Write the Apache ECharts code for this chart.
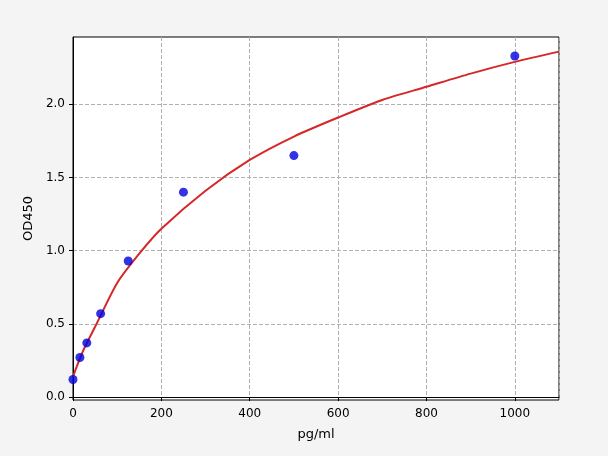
<!DOCTYPE html>
<html>
<head>
<meta charset="utf-8">
<script src="https://cdn.jsdelivr.net/npm/echarts@6/dist/echarts.min.js"></script>
<style>html,body{margin:0;padding:0;background:#f4f4f4}#c{width:608px;height:456px}</style>
</head>
<body>
<div id="c"></div>
<script>
// standards
var conc = [0, 15.6, 31.25, 62.5, 125, 250, 500, 1000];
var od = [0.12, 0.27, 0.37, 0.57, 0.93, 1.40, 1.65, 2.33];
// fitted curve
var curveX = [0, 10, 25, 50, 100, 150, 200, 300, 400, 500, 600, 700, 800, 900, 1000, 1100];
var curveY = [0.14, 0.22, 0.33, 0.48, 0.78, 0.98, 1.15, 1.41, 1.62, 1.78, 1.91, 2.03, 2.12, 2.21, 2.29, 2.36];

var chart = echarts.init(document.getElementById('c'));
var font = 'DejaVu Sans';
var gridLine = { show: true, lineStyle: { color: '#b0b0b0', type: 'dashed', width: 1 } };
chart.setOption({
  backgroundColor: '#f4f4f4',
  animation: false,
  grid: { left: 73, right: 49, top: 37, bottom: 56, backgroundColor: '#fff', show: true, borderColor: '#000', borderWidth: 1 },
  xAxis: {
    type: 'value', min: 0, max: 1100, interval: 200,
    name: 'pg/ml', nameLocation: 'middle', nameGap: 28,
    nameTextStyle: { fontFamily: font, fontSize: 13, color: '#000' },
    axisLine: { lineStyle: { color: '#000' } },
    axisTick: { show: true, length: 4, lineStyle: { color: '#000' } },
    axisLabel: { fontFamily: font, fontSize: 12, color: '#000', showMaxLabel: false,
      formatter: function (v) { return String(v); } },
    splitLine: gridLine
  },
  yAxis: {
    type: 'value', min: -0.02, max: 2.46,
    name: 'OD450', nameLocation: 'middle', nameGap: 38,
    nameTextStyle: { fontFamily: font, fontSize: 13, color: '#000' },
    axisLine: { show: true, lineStyle: { color: '#000' } },
    axisTick: { show: true, length: 4, lineStyle: { color: '#000' }, customValues: [0, 0.5, 1, 1.5, 2] },
    axisLabel: { fontFamily: font, fontSize: 12, color: '#000', customValues: [0, 0.5, 1, 1.5, 2],
      formatter: function (v) { return v.toFixed(1); } },
    splitLine: gridLine
  },
  series: [
    { type: 'line', data: curveX.map(function (x, i) { return [x, curveY[i]]; }),
      smooth: 0.25, showSymbol: false, lineStyle: { color: '#d62728', width: 2 }, z: 2 },
    { type: 'scatter', data: conc.map(function (x, i) { return [x, od[i]]; }),
      symbolSize: 9, itemStyle: { color: '#0000dd' }, z: 3 }
  ]
});
</script>
</body>
</html>
